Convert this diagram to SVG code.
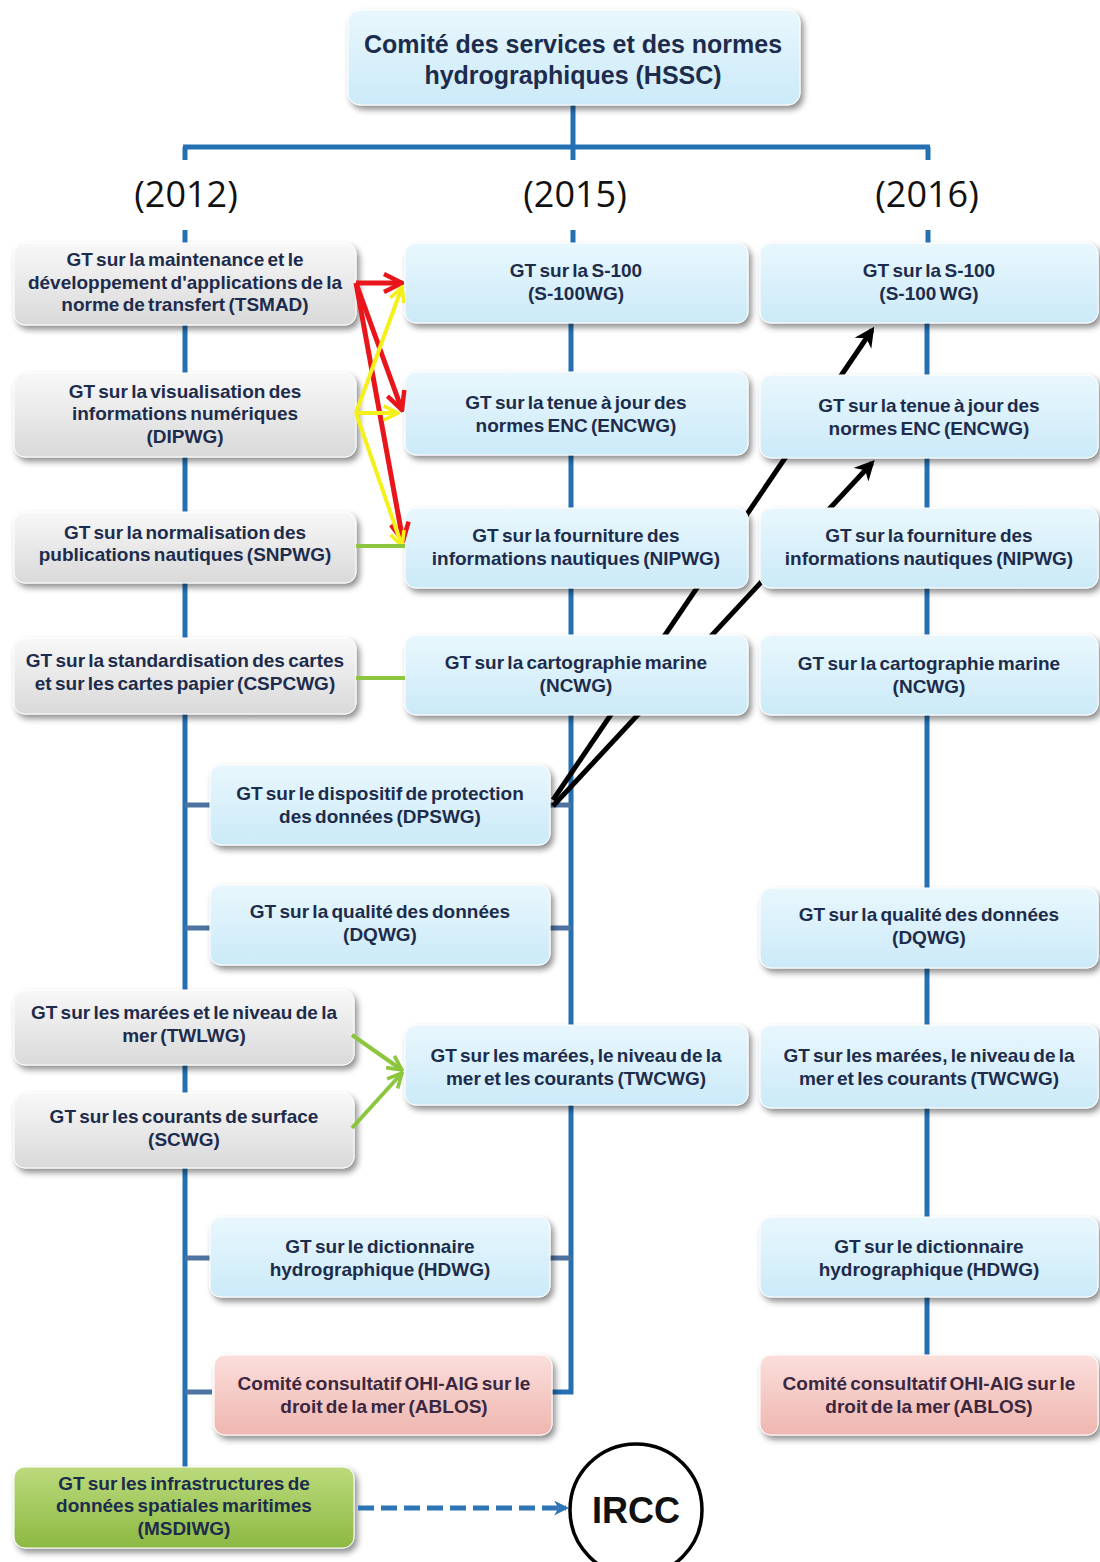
<svg xmlns="http://www.w3.org/2000/svg" width="1100" height="1562" viewBox="0 0 1100 1562">
<defs>
<linearGradient id="gGray" x1="0" y1="0" x2="0" y2="1"><stop offset="0" stop-color="#f8f8f8"/><stop offset="1" stop-color="#d9d9d9"/></linearGradient>
<linearGradient id="gBlue" x1="0" y1="0" x2="0" y2="1"><stop offset="0" stop-color="#e9f7fd"/><stop offset="1" stop-color="#cbeaf8"/></linearGradient>
<linearGradient id="gPink" x1="0" y1="0" x2="0" y2="1"><stop offset="0" stop-color="#fbdedb"/><stop offset="1" stop-color="#efb6b0"/></linearGradient>
<linearGradient id="gGreen" x1="0" y1="0" x2="0" y2="1"><stop offset="0" stop-color="#bcda7c"/><stop offset="1" stop-color="#8cb942"/></linearGradient>
<filter id="sh" x="-10%" y="-20%" width="125%" height="150%"><feDropShadow dx="3" dy="4" stdDeviation="3" flood-color="#000" flood-opacity="0.45"/></filter>
<marker id="mRed" viewBox="0 0 10 10" refX="9" refY="5" markerWidth="4.5" markerHeight="4.5" orient="auto"><path d="M1,1 L9,5 L1,9" fill="none" stroke="#e8151b" stroke-width="2"/></marker>
<marker id="mYel" viewBox="0 0 10 10" refX="9" refY="5" markerWidth="4.5" markerHeight="4.5" orient="auto"><path d="M1,1 L9,5 L1,9" fill="none" stroke="#f6f01a" stroke-width="2"/></marker>
<marker id="mGrn" viewBox="0 0 10 10" refX="9" refY="5" markerWidth="4.5" markerHeight="4.5" orient="auto"><path d="M1,1 L9,5 L1,9" fill="none" stroke="#8cc63f" stroke-width="2"/></marker>
<marker id="mBlk" viewBox="0 0 10 10" refX="8" refY="5" markerWidth="4" markerHeight="4" orient="auto"><path d="M0,0 L10,5 L0,10 L3,5 Z" fill="#000"/></marker>
<marker id="mBlu" viewBox="0 0 10 10" refX="8" refY="5" markerWidth="3" markerHeight="3" orient="auto"><path d="M0,0 L10,5 L0,10 L3,5 Z" fill="#2e75b6"/></marker>
</defs>
<style>
.bx{filter:url(#sh);stroke:#ffffff;stroke-width:1}
.gray{fill:url(#gGray)}
.blue{fill:url(#gBlue)}
.pink{fill:url(#gPink)}
.green{fill:url(#gGreen)}
.t{font-family:"Liberation Sans",Arial,sans-serif;font-weight:bold;font-size:19px;fill:#1d2c4c;text-anchor:middle;word-spacing:-2px}
.tp{fill:#3b2740}
.title{font-family:"Liberation Sans",Arial,sans-serif;font-weight:bold;font-size:25px;fill:#1d2c4c;text-anchor:middle}
.yr{font-family:"Open Sans","Liberation Sans",sans-serif;font-size:36px;fill:#111;text-anchor:middle}
.trunk{stroke:#2470b3;stroke-width:5;fill:none}
.stub{stroke:#4d72a0;stroke-width:5;fill:none}
.red{stroke:#e8151b;stroke-width:5;fill:none;marker-end:url(#mRed)}
.yel{stroke:#f6f01a;stroke-width:4;fill:none;marker-end:url(#mYel)}
.grn{stroke:#8cc63f;stroke-width:4;fill:none}
.blk{stroke:#000;stroke-width:5;fill:none;marker-end:url(#mBlk)}
</style>
<rect width="1100" height="1562" fill="#ffffff"/>

<g id="connectors">
<line class="trunk" x1="573" y1="100" x2="573" y2="147"/>
<line class="trunk" x1="183" y1="147" x2="930" y2="147"/>
<line class="trunk" x1="185" y1="147" x2="185" y2="160"/>
<line class="trunk" x1="573" y1="147" x2="573" y2="160"/>
<line class="trunk" x1="928" y1="147" x2="928" y2="160"/>
<line class="trunk" x1="185" y1="230" x2="185" y2="245"/>
<line class="trunk" x1="573" y1="230" x2="573" y2="245"/>
<line class="trunk" x1="928" y1="230" x2="928" y2="245"/>
<line class="trunk" x1="185" y1="245" x2="185" y2="1470"/>
<polyline class="trunk" points="571,245 571,1392 548,1392"/>
<line class="trunk" x1="927" y1="245" x2="927" y2="1358"/>
<line class="stub" x1="185" y1="805" x2="212" y2="805"/>
<line class="stub" x1="548" y1="805" x2="571" y2="805"/>
<line class="stub" x1="185" y1="928" x2="212" y2="928"/>
<line class="stub" x1="548" y1="928" x2="571" y2="928"/>
<line class="stub" x1="185" y1="1258" x2="212" y2="1258"/>
<line class="stub" x1="548" y1="1258" x2="571" y2="1258"/>
<line class="stub" x1="185" y1="1392" x2="212" y2="1392"/>
<line class="blk" x1="553" y1="800" x2="872" y2="330"/>
<line class="blk" x1="553" y1="806" x2="872" y2="463"/>
</g>

<g id="n-hssc"><rect class="bx blue" x="348" y="10" width="452" height="95" rx="12"/>
<text class="title" x="573" y="53">Comité des services et des normes</text>
<text class="title" x="573" y="84">hydrographiques (HSSC)</text></g>

<g id="years">
<text class="yr" x="186" y="207">(2012)</text>
<text class="yr" x="575" y="207">(2015)</text>
<text class="yr" x="927" y="207">(2016)</text>
</g>

<g id="n-tsmad"><rect class="bx gray" x="14" y="243" width="342" height="82" rx="11"/>
<text class="t" x="185" y="266">GT sur la maintenance et le</text>
<text class="t" x="185" y="289">développement d'applications de la</text>
<text class="t" x="185" y="311">norme de transfert (TSMAD)</text></g>
<g id="n-dipwg"><rect class="bx gray" x="14" y="373" width="342" height="84" rx="11"/>
<text class="t" x="185" y="398">GT sur la visualisation des</text>
<text class="t" x="185" y="420">informations numériques</text>
<text class="t" x="185" y="443">(DIPWG)</text></g>
<g id="n-snpwg"><rect class="bx gray" x="14" y="512" width="342" height="71" rx="11"/>
<text class="t" x="185" y="539">GT sur la normalisation des</text>
<text class="t" x="185" y="561">publications nautiques (SNPWG)</text></g>
<g id="n-cspcwg"><rect class="bx gray" x="14" y="638" width="342" height="76" rx="11"/>
<text class="t" x="185" y="667">GT sur la standardisation des cartes</text>
<text class="t" x="185" y="690">et sur les cartes papier (CSPCWG)</text></g>
<g id="n-twlwg"><rect class="bx gray" x="14" y="990" width="340" height="75" rx="11"/>
<text class="t" x="184" y="1019">GT sur les marées et le niveau de la</text>
<text class="t" x="184" y="1042">mer (TWLWG)</text></g>
<g id="n-scwg"><rect class="bx gray" x="14" y="1093" width="340" height="75" rx="11"/>
<text class="t" x="184" y="1123">GT sur les courants de surface</text>
<text class="t" x="184" y="1146">(SCWG)</text></g>
<g id="n-msdiwg"><rect class="bx green" x="14" y="1467" width="340" height="81" rx="11"/>
<text class="t" x="184" y="1490">GT sur les infrastructures de</text>
<text class="t" x="184" y="1512">données spatiales maritimes</text>
<text class="t" x="184" y="1535">(MSDIWG)</text></g>

<g id="n-dpswg"><rect class="bx blue" x="210" y="765" width="340" height="80" rx="11"/>
<text class="t" x="380" y="800">GT sur le dispositif de protection</text>
<text class="t" x="380" y="823">des données (DPSWG)</text></g>
<g id="n-dqwg1"><rect class="bx blue" x="210" y="885" width="340" height="80" rx="11"/>
<text class="t" x="380" y="918">GT sur la qualité des données</text>
<text class="t" x="380" y="941">(DQWG)</text></g>
<g id="n-hdwg1"><rect class="bx blue" x="210" y="1217" width="340" height="80" rx="11"/>
<text class="t" x="380" y="1253">GT sur le dictionnaire</text>
<text class="t" x="380" y="1276">hydrographique (HDWG)</text></g>
<g id="n-ablos1"><rect class="bx pink" x="214" y="1355" width="338" height="80" rx="11"/>
<text class="t tp" x="384" y="1390">Comité consultatif OHI-AIG sur le</text>
<text class="t tp" x="384" y="1413">droit de la mer (ABLOS)</text></g>

<g id="n-s100-15"><rect class="bx blue" x="405" y="243" width="343" height="80" rx="11"/>
<text class="t" x="576" y="277">GT sur la S-100</text>
<text class="t" x="576" y="300">(S-100WG)</text></g>
<g id="n-encwg-15"><rect class="bx blue" x="405" y="372" width="343" height="83" rx="11"/>
<text class="t" x="576" y="409">GT sur la tenue à jour des</text>
<text class="t" x="576" y="432">normes ENC (ENCWG)</text></g>
<g id="n-nipwg-15"><rect class="bx blue" x="405" y="508" width="343" height="80" rx="11"/>
<text class="t" x="576" y="542">GT sur la fourniture des</text>
<text class="t" x="576" y="565">informations nautiques (NIPWG)</text></g>
<g id="n-ncwg-15"><rect class="bx blue" x="405" y="635" width="343" height="80" rx="11"/>
<text class="t" x="576" y="669">GT sur la cartographie marine</text>
<text class="t" x="576" y="692">(NCWG)</text></g>
<g id="n-twcwg-15"><rect class="bx blue" x="405" y="1025" width="343" height="80" rx="11"/>
<text class="t" x="576" y="1062">GT sur les marées, le niveau de la</text>
<text class="t" x="576" y="1085">mer et les courants (TWCWG)</text></g>

<g id="n-s100-16"><rect class="bx blue" x="760" y="243" width="338" height="80" rx="11"/>
<text class="t" x="929" y="277">GT sur la S-100</text>
<text class="t" x="929" y="300">(S-100 WG)</text></g>
<g id="n-encwg-16"><rect class="bx blue" x="760" y="375" width="338" height="83" rx="11"/>
<text class="t" x="929" y="412">GT sur la tenue à jour des</text>
<text class="t" x="929" y="435">normes ENC (ENCWG)</text></g>
<g id="n-nipwg-16"><rect class="bx blue" x="760" y="508" width="338" height="80" rx="11"/>
<text class="t" x="929" y="542">GT sur la fourniture des</text>
<text class="t" x="929" y="565">informations nautiques (NIPWG)</text></g>
<g id="n-ncwg-16"><rect class="bx blue" x="760" y="635" width="338" height="80" rx="11"/>
<text class="t" x="929" y="670">GT sur la cartographie marine</text>
<text class="t" x="929" y="693">(NCWG)</text></g>
<g id="n-dqwg-16"><rect class="bx blue" x="760" y="888" width="338" height="80" rx="11"/>
<text class="t" x="929" y="921">GT sur la qualité des données</text>
<text class="t" x="929" y="944">(DQWG)</text></g>
<g id="n-twcwg-16"><rect class="bx blue" x="760" y="1025" width="338" height="83" rx="11"/>
<text class="t" x="929" y="1062">GT sur les marées, le niveau de la</text>
<text class="t" x="929" y="1085">mer et les courants (TWCWG)</text></g>
<g id="n-hdwg-16"><rect class="bx blue" x="760" y="1217" width="338" height="80" rx="11"/>
<text class="t" x="929" y="1253">GT sur le dictionnaire</text>
<text class="t" x="929" y="1276">hydrographique (HDWG)</text></g>
<g id="n-ablos-16"><rect class="bx pink" x="760" y="1355" width="338" height="80" rx="11"/>
<text class="t tp" x="929" y="1390">Comité consultatif OHI-AIG sur le</text>
<text class="t tp" x="929" y="1413">droit de la mer (ABLOS)</text></g>

<g id="n-ircc"><circle cx="636" cy="1510" r="66" fill="#ffffff" stroke="#000" stroke-width="3.5"/>
<text x="636" y="1523" font-family="'Liberation Sans',Arial,sans-serif" font-weight="bold" font-size="36" text-anchor="middle" fill="#111">IRCC</text></g>

<g id="connectors-front">
<line class="red" x1="356" y1="283" x2="402" y2="283"/>
<line class="red" x1="356" y1="283" x2="402" y2="410"/>
<line class="red" x1="356" y1="283" x2="403" y2="541"/>
<line class="yel" x1="356" y1="413" x2="402" y2="287"/>
<line class="yel" x1="356" y1="413" x2="398" y2="413"/>
<line class="yel" x1="356" y1="413" x2="402" y2="546"/>
<line class="grn" x1="356" y1="546" x2="405" y2="546"/>
<line class="grn" x1="356" y1="678" x2="405" y2="678"/>
<line class="grn" style="marker-end:url(#mGrn)" x1="352" y1="1035" x2="402" y2="1070"/>
<line class="grn" style="marker-end:url(#mGrn)" x1="352" y1="1128" x2="402" y2="1073"/>
<line x1="358" y1="1508" x2="566" y2="1508" stroke="#2e75b6" stroke-width="5" stroke-dasharray="16,7" marker-end="url(#mBlu)"/>
</g>
</svg>
